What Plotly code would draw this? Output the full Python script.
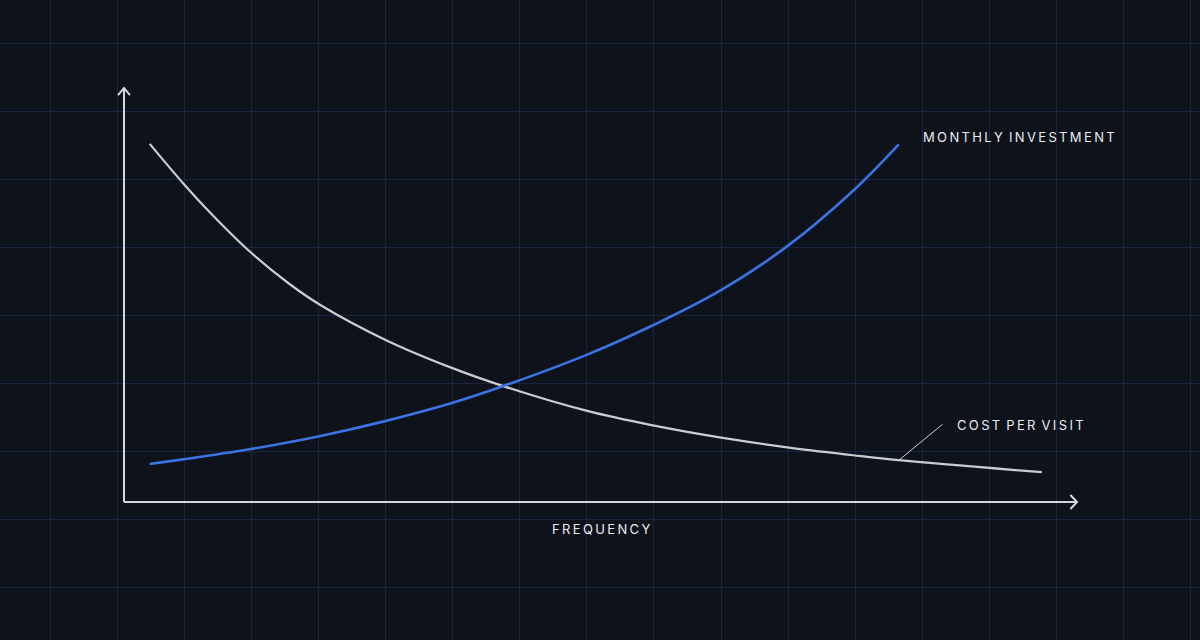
import plotly.graph_objects as go

# Frequency (0 = origin, 100 = arrow tip) and value (0 = x axis, 100 = arrow tip)
freq_cost = [2.7, 6.2, 9.0, 13.2, 17.4, 20.6, 27.5, 34.4, 39.8, 48.6, 55.5, 62.5, 69.6, 76.5, 81.3, 96.3]
cost_per_visit = [86.5, 77.0, 70.0, 60.5, 52.6, 47.6, 39.1, 32.4, 28.0, 22.0, 18.5, 15.6, 13.2, 11.3, 10.1, 7.2]

freq_invest = [2.7, 6.2, 13.3, 20.5, 27.5, 34.4, 39.8, 48.6, 55.5, 62.5, 69.6, 76.5, 81.3]
monthly_investment = [9.2, 10.3, 12.8, 15.9, 19.6, 23.9, 28.0, 35.6, 42.7, 51.0, 61.8, 75.2, 86.4]

# leader line from the cost curve to its label
leader_x = [81.2, 85.9]
leader_y = [9.9, 18.8]

AXIS_MAX = 100
BG = "#0e121b"
GRID = "#19253f"
AXIS_COLOR = "#d4d7dc"
GRAY = "#c9ccd1"
BLUE = "#3a73e2"
TEXT = "#e9ebef"

W, H = 1200, 640
# data ranges so the chart sits where it should on the 1200x640 canvas
X_RANGE = [-13.01, 112.9]
Y_RANGE = [-33.33, 121.26]

# background grid, in canvas pixels
GRID_X0_PX, GRID_DX_PX = 50, 67.1
GRID_Y0_PX, GRID_DY_PX = 43, 68.1

x_per_px = (X_RANGE[1] - X_RANGE[0]) / W
y_per_px = (Y_RANGE[1] - Y_RANGE[0]) / H


def spaced(s):
    # letter-spaced caps
    return " \u2009".join("\u2009".join(w) for w in s.split(" "))


fig = go.Figure()

# axes with open chevron heads
ax_dx, ax_dy = 0.7, 1.7
fig.add_trace(go.Scatter(
    x=[0, 0, None, -ax_dx * 0.9, 0, ax_dx * 0.9],
    y=[0, AXIS_MAX, None, AXIS_MAX - ax_dy, AXIS_MAX, AXIS_MAX - ax_dy],
    mode="lines", line=dict(color=AXIS_COLOR, width=2), hoverinfo="skip",
))
fig.add_trace(go.Scatter(
    x=[0, AXIS_MAX, None, AXIS_MAX - ax_dx, AXIS_MAX, AXIS_MAX - ax_dx],
    y=[0, 0, None, ax_dy, 0, -ax_dy],
    mode="lines", line=dict(color=AXIS_COLOR, width=2), hoverinfo="skip",
))

fig.add_trace(go.Scatter(
    x=freq_cost, y=cost_per_visit, mode="lines", name="Cost per visit",
    line=dict(color=GRAY, width=2.2, shape="spline", smoothing=1.0),
))
fig.add_trace(go.Scatter(
    x=freq_invest, y=monthly_investment, mode="lines", name="Monthly investment",
    line=dict(color=BLUE, width=2.6, shape="spline", smoothing=1.0),
))
fig.add_trace(go.Scatter(
    x=leader_x, y=leader_y, mode="lines",
    line=dict(color=GRAY, width=1), hoverinfo="skip",
))

label_font = dict(family="Inter, 'Noto Sans', sans-serif", size=13, color=TEXT)
fig.add_annotation(x=83.6, y=88.2, text=spaced("MONTHLY INVESTMENT"),
                   showarrow=False, xanchor="left", yanchor="middle", font=label_font)
fig.add_annotation(x=87.2, y=18.6, text=spaced("COST PER VISIT"),
                   showarrow=False, xanchor="left", yanchor="middle", font=label_font)
fig.add_annotation(x=50, y=-6.5, text=spaced("FREQUENCY"),
                   showarrow=False, xanchor="center", yanchor="middle", font=label_font)

fig.update_layout(
    width=W,
    height=H,
    margin=dict(l=0, r=0, t=0, b=0),
    paper_bgcolor=BG,
    plot_bgcolor=BG,
    showlegend=False,
    xaxis=dict(range=X_RANGE, tick0=X_RANGE[0] + GRID_X0_PX * x_per_px,
               dtick=GRID_DX_PX * x_per_px, showgrid=True, gridcolor=GRID, gridwidth=1,
               zeroline=False, showticklabels=False, ticks="", showline=False, fixedrange=True),
    yaxis=dict(range=Y_RANGE, tick0=Y_RANGE[1] - GRID_Y0_PX * y_per_px,
               dtick=GRID_DY_PX * y_per_px, showgrid=True, gridcolor=GRID, gridwidth=1,
               zeroline=False, showticklabels=False, ticks="", showline=False, fixedrange=True),
)

fig.write_html("out.html", config={"displayModeBar": False},
               post_script="document.body.style.margin = '0';")
